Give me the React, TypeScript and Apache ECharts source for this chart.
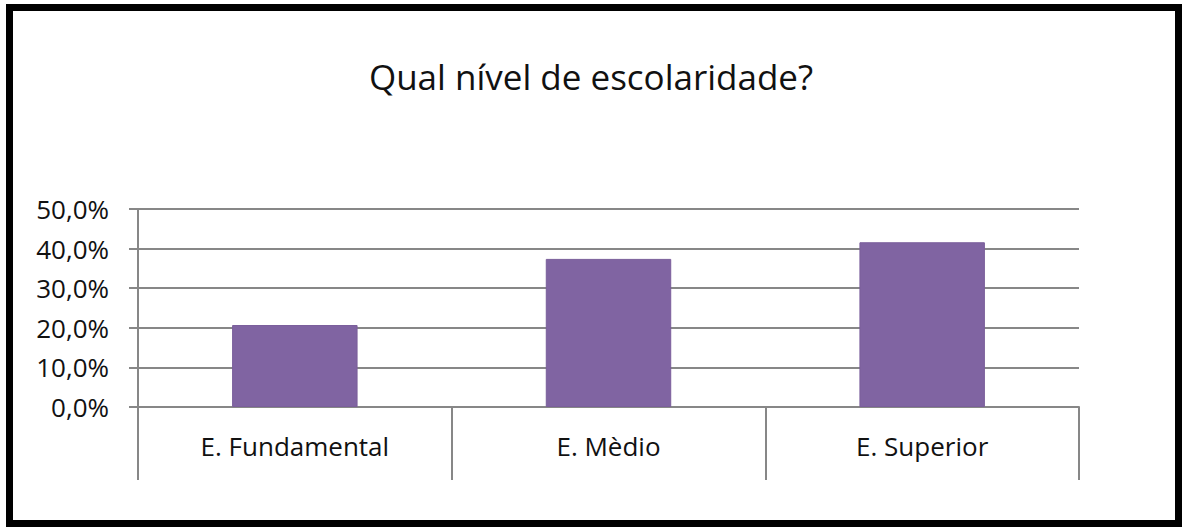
import React, { useEffect, useRef } from "react";
import * as echarts from "echarts";

const title = "Qual nível de escolaridade?";
const categories = ["E. Fundamental", "E. Mèdio", "E. Superior"];
const values = [0.207, 0.374, 0.416];
const yMin = 0;
const yMax = 0.5;
const yInterval = 0.1;

const FONT = "'Open Sans', 'Noto Sans', sans-serif";

export default function App() {
  const ref = useRef<HTMLDivElement>(null);
  useEffect(() => {
    document.body.style.margin = "0";
    const chart = echarts.init(ref.current!, null, { renderer: "svg" });
    chart.setOption({
      animation: false,
      backgroundColor: "#ffffff",
      textStyle: { fontFamily: FONT },
      title: {
        text: title,
        left: "center",
        top: 54,
        textStyle: { fontFamily: FONT, fontSize: 35, fontWeight: "normal", color: "#111" },
      },
      graphic: [
        {
          type: "rect",
          shape: { x: 9.5, y: 7.5, width: 1169, height: 516 },
          style: { fill: "none", stroke: "#000", lineWidth: 7 },
          z: 100,
        },
      ],
      grid: { left: 138, right: 103, top: 209, bottom: 122, containLabel: false },
      xAxis: {
        type: "category",
        data: categories,
        boundaryGap: true,
        axisLine: { show: true, lineStyle: { color: "#878787", width: 2 } },
        axisTick: { show: true, length: 73, alignWithLabel: false, lineStyle: { color: "#878787", width: 2 } },
        axisLabel: { margin: 26, fontSize: 26, color: "#111", fontFamily: FONT },
      },
      yAxis: {
        type: "value",
        min: yMin,
        max: yMax,
        interval: yInterval,
        axisLine: { show: true, lineStyle: { color: "#878787", width: 2 } },
        axisTick: { show: true, length: 9, lineStyle: { color: "#878787", width: 2 } },
        splitLine: { show: true, lineStyle: { color: "#878787", width: 2 } },
        axisLabel: {
          margin: 29,
          fontSize: 26,
          color: "#111",
          fontFamily: FONT,
          formatter: (v: number) => (v * 100).toFixed(1).replace(".", ",") + "%",
        },
      },
      series: [
        {
          type: "bar",
          data: values,
          barWidth: "40%",
          itemStyle: { color: "#8064A2", borderColor: "#7a5e9b", borderWidth: 1 },
        },
      ],
    });
    return () => chart.dispose();
  }, []);
  return <div ref={ref} style={{ width: 1182, height: 529, position: "absolute", left: 0, top: 0 }} />;
}
